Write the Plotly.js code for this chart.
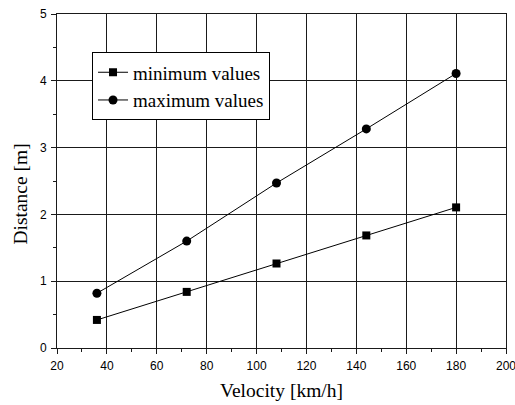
<!DOCTYPE html>
<html>
<head>
<meta charset="utf-8">
<script src="https://cdn.plot.ly/plotly-3.0.1.min.js"></script>
<style>html,body{margin:0;padding:0;background:#fff;}#chart{width:515px;height:405px;}</style>
</head>
<body>
<div id="chart"></div>
<script>
var velocity = [36, 72, 108, 144, 180];
var minValues = [0.42, 0.84, 1.265, 1.685, 2.105];
var maxValues = [0.82, 1.60, 2.47, 3.28, 4.11];
var seriesNames = ["minimum values", "maximum values"];
var xTitle = "Velocity [km/h]";
var yTitle = "Distance [m]";

var serif = "'Liberation Serif', 'Times New Roman', Times, serif";
var sans = "'Liberation Sans', Arial, sans-serif";

var traces = [
  {x: velocity, y: minValues, name: seriesNames[0], type: 'scatter', mode: 'lines+markers',
   line: {color: '#000', width: 1}, marker: {symbol: 'square', size: 8, color: '#000'}},
  {x: velocity, y: maxValues, name: seriesNames[1], type: 'scatter', mode: 'lines+markers',
   line: {color: '#000', width: 1}, marker: {symbol: 'circle', size: 9, color: '#000'}}
];

var axisCommon = {
  showline: true, mirror: true, linecolor: '#1a1a1a', linewidth: 1,
  showgrid: true, gridcolor: '#1a1a1a', gridwidth: 1,
  ticks: 'outside', ticklen: 5, tickwidth: 1, tickcolor: '#1a1a1a',
  zeroline: false, ticklabeloverflow: 'allow', ticklabelstandoff: 2,
  tickfont: {family: sans, size: 12, color: '#000'}
};

var layout = {
  width: 515, height: 405,
  margin: {l: 57, r: 9, t: 14, b: 57},
  paper_bgcolor: '#fff', plot_bgcolor: '#fff',
  showlegend: true,
  xaxis: Object.assign({}, axisCommon, {
    range: [20, 200], dtick: 20, tick0: 20,
    minor: {ticks: 'outside', ticklen: 3, dtick: 10, tick0: 20, tickcolor: '#1a1a1a', showgrid: false},
    title: {text: xTitle, font: {family: serif, size: 19.5, color: '#000'}, standoff: 10}
  }),
  yaxis: Object.assign({}, axisCommon, {
    range: [0, 5], dtick: 1, tick0: 0,
    minor: {ticks: 'outside', ticklen: 3, dtick: 0.5, tick0: 0, tickcolor: '#1a1a1a', showgrid: false}
  }),
  annotations: [{
    text: yTitle, xref: 'paper', yref: 'paper', x: -0.082, y: 0.46,
    xanchor: 'center', yanchor: 'middle', textangle: -90, showarrow: false,
    font: {family: serif, size: 19.5, color: '#000'}
  }],
  legend: {
    x: 0.078, y: 0.885, xanchor: 'left', yanchor: 'top',
    bgcolor: '#fff', bordercolor: '#000', borderwidth: 1,
    font: {family: serif, size: 19, color: '#000'},
    tracegroupgap: 0
  }
};

Plotly.newPlot('chart', traces, layout, {displayModeBar: false, staticPlot: true});
</script>
</body>
</html>
